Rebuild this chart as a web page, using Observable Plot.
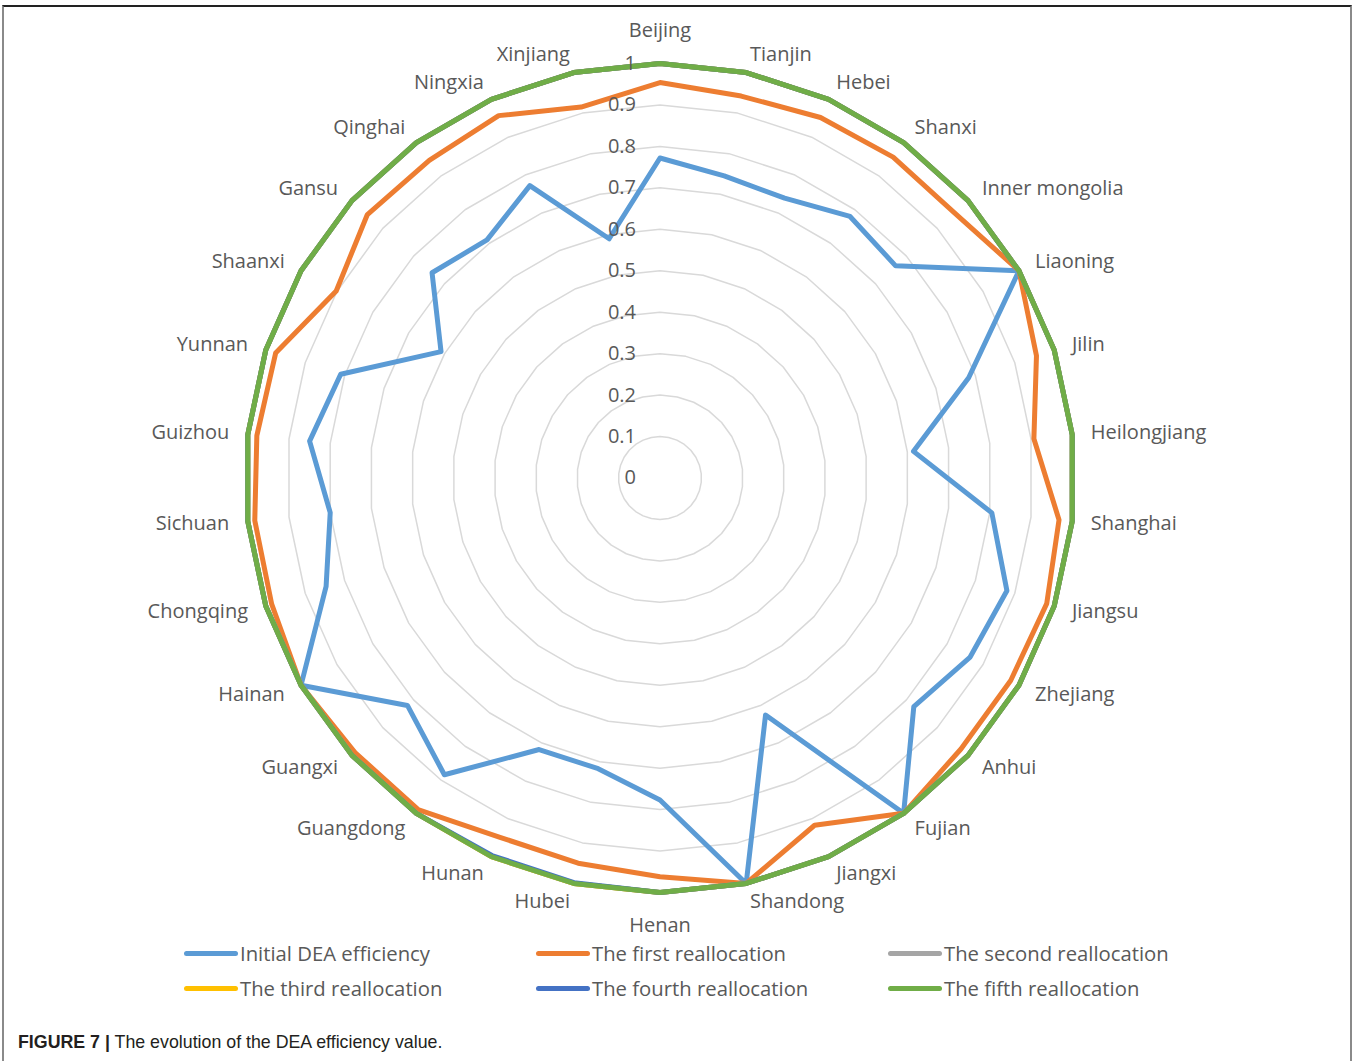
<!DOCTYPE html>
<html>
<head>
<meta charset="utf-8">
<script src="https://cdn.jsdelivr.net/npm/d3@7"></script>
<script src="https://cdn.jsdelivr.net/npm/@observablehq/plot@0.6"></script>
<style>
  html, body { margin: 0; padding: 0; background: #fff; }
  body { width: 1357px; height: 1061px; position: relative; overflow: hidden; }
  #frame { position: absolute; left: 2px; top: 5px; width: 1346px; height: 1080px;
           border-top: 2px solid #222; border-left: 2px solid #8a8a8a; border-right: 2px solid #8a8a8a; }
  #chart { position: absolute; left: 0; top: 0; }
  .leg { position: absolute; font-family: "Open Sans", sans-serif; font-size: 20.3px; color: #595959; white-space: nowrap; }
  .sw { position: absolute; width: 54px; height: 5px; border-radius: 3px; }
  #caption { position: absolute; left: 18px; top: 1031px; font-family: "Liberation Sans", Arial, sans-serif;
             font-size: 17.8px; color: #231f20; white-space: nowrap; line-height: 22px; }
</style>
</head>
<body>
<div id="frame"></div>
<div id="chart"></div>
<div id="legend"></div>
<div id="caption"><b>FIGURE 7 |</b> The evolution of the DEA efficiency value.</div>
<script>
// ---- data ----
const provinces = ["Beijing","Tianjin","Hebei","Shanxi","Inner mongolia","Liaoning","Jilin","Heilongjiang",
  "Shanghai","Jiangsu","Zhejiang","Anhui","Fujian","Jiangxi","Shandong","Henan","Hubei","Hunan",
  "Guangdong","Guangxi","Hainan","Chongqing","Sichuan","Guizhou","Yunnan","Shaanxi","Gansu","Qinghai",
  "Ningxia","Xinjiang"];
const seriesNames = ["Initial DEA efficiency","The first reallocation","The second reallocation",
  "The third reallocation","The fourth reallocation","The fifth reallocation"];
const seriesColors = ["#5B9BD5","#ED7D31","#A5A5A5","#FFC000","#4472C4","#70AD47"];
const initial = [0.772,0.745,0.739,0.780,0.765,1.000,0.783,0.615,0.805,0.880,0.864,0.824,1.000,0.626,1.000,
  0.777,0.717,0.717,0.885,0.820,1.000,0.847,0.800,0.850,0.810,0.610,0.740,0.710,0.772,0.590];
const first = [0.954,0.942,0.952,0.957,0.956,1.000,0.955,0.907,0.968,0.981,0.977,0.977,1.000,0.917,1.000,
  0.962,0.950,0.949,0.990,0.990,1.000,0.985,0.983,0.978,0.975,0.902,0.950,0.947,0.957,0.915];
const second = [1,1,1,1,1,1,1,1,1,1,1,1,1,1,1,1,1,1,1,1,1,1,1,1,1,1,1,1,1,1];
const third = [1,1,1,1,1,1,1,1,1,1,1,1,1,1,1,1,1,1,1,1,1,1,1,1,1,1,1,1,1,1];
const fourth = [1,1,1,1,1,1,1,1,1,1,1,1,1,1,1,1,0.998,0.997,1,1,1,1,1,1,1,1,1,1,1,1];
const fifth = [1,1,1,1,1,1,1,1,1,1,1,1,1,1,1,1,1,1,1,1,1,1,1,1,1,1,1,1,1,1];
const ticks = [0,0.1,0.2,0.3,0.4,0.5,0.6,0.7,0.8,0.9,1];
const tickLabels = ["0","0.1","0.2","0.3","0.4","0.5","0.6","0.7","0.8","0.9","1"];

// ---- build tables ----
const seriesValues = [initial, first, second, third, fourth, fifth];
const n = provinces.length;
const ang = i => i * 2 * Math.PI / n;
const rows = [];
seriesNames.forEach((s, k) => seriesValues[k].forEach((v, i) => rows.push({series: s, i, v})));
const gridRows = [];
ticks.filter(t => t > 0).forEach(t => provinces.forEach((p, i) => gridRows.push({t, i})));
const labelRows = provinces.map((p, i) => {
  const a = ang(i);
  const s = Math.sin(a);
  const mid = Math.abs(s) < 1e-6;
  return {p, i, r: mid ? 1.08 : 1.045, anchor: mid ? "middle" : (s > 0 ? "start" : "end")};
});

const cx = 659.5, cy = 477.5, R = 414.5;
const fx = d => d.v * Math.sin(ang(d.i));
const fy = d => d.v * Math.cos(ang(d.i));

const chart = Plot.plot({
  width: 1357, height: 935, margin: 0,
  x: {axis: null, domain: [-1, 1], range: [cx - R, cx + R]},
  y: {axis: null, domain: [-1, 1], range: [cy + R, cy - R]},
  color: {domain: seriesNames, range: seriesColors},
  style: {fontFamily: "'Open Sans', sans-serif", background: "transparent", overflow: "visible"},
  marks: [
    Plot.line(gridRows, {x: d => d.t * Math.sin(ang(d.i)), y: d => d.t * Math.cos(ang(d.i)), z: "t",
      curve: "linear-closed", stroke: "#d9d9d9", strokeWidth: 1.5}),
    Plot.line(rows, {x: fx, y: fy, z: "series", stroke: "series", curve: "linear-closed",
      strokeWidth: 5, strokeLinejoin: "round"}),
    Plot.text(ticks, {x: 0, y: d => d, text: (d, j) => tickLabels[j], dx: -24, textAnchor: "end",
      fill: "#595959", fontSize: 20}),
    Plot.text(labelRows.filter(d => d.anchor === "start"), {x: d => d.r * Math.sin(ang(d.i)), y: d => d.r * Math.cos(ang(d.i)),
      text: "p", textAnchor: "start", fill: "#595959", fontSize: 20}),
    Plot.text(labelRows.filter(d => d.anchor === "end"), {x: d => d.r * Math.sin(ang(d.i)), y: d => d.r * Math.cos(ang(d.i)),
      text: "p", textAnchor: "end", fill: "#595959", fontSize: 20}),
    Plot.text(labelRows.filter(d => d.anchor === "middle"), {x: d => d.r * Math.sin(ang(d.i)), y: d => d.r * Math.cos(ang(d.i)),
      text: "p", textAnchor: "middle", fill: "#595959", fontSize: 20})
  ]
});
document.getElementById("chart").appendChild(chart);

// ---- legend ----
const legX = [184, 536, 888];
const legY = [953, 988];
const legend = document.getElementById("legend");
seriesNames.forEach((s, k) => {
  const col = k % 3, row = Math.floor(k / 3);
  const sw = document.createElement("div");
  sw.className = "sw";
  sw.style.left = legX[col] + "px";
  sw.style.top = (legY[row] - 2.5) + "px";
  sw.style.background = seriesColors[k];
  legend.appendChild(sw);
  const t = document.createElement("div");
  t.className = "leg";
  t.textContent = s;
  t.style.left = (legX[col] + 56) + "px";
  t.style.top = (legY[row] - 14) + "px";
  t.style.lineHeight = "28px";
  legend.appendChild(t);
});
</script>
</body>
</html>
